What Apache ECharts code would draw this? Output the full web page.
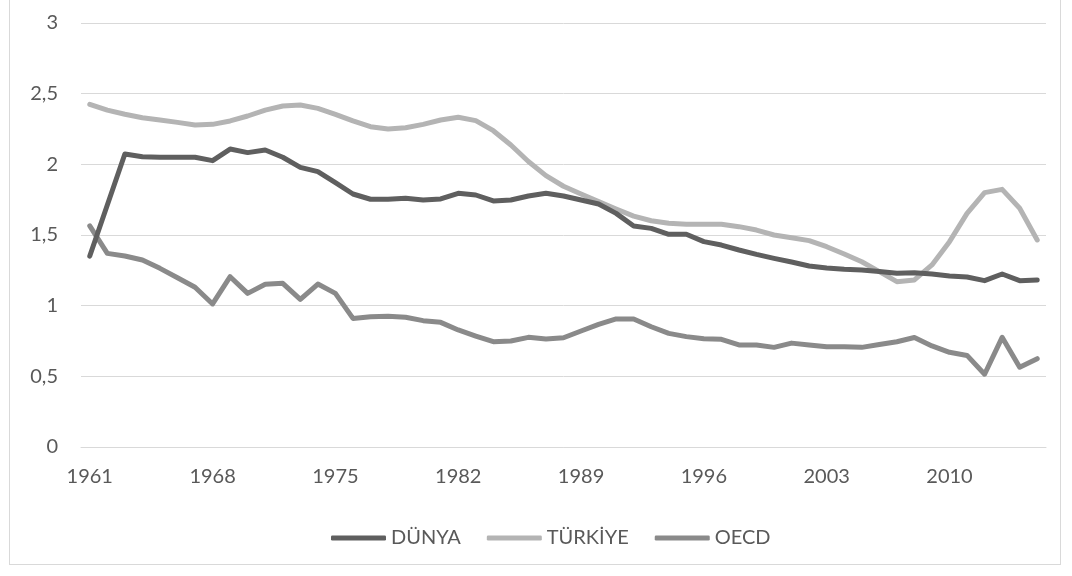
<!DOCTYPE html>
<html>
<head>
<meta charset="utf-8">
<script src="https://cdn.jsdelivr.net/npm/echarts@6/dist/echarts.min.js"></script>
<style>
html,body{margin:0;padding:0;background:#fff;}
#frame{position:absolute;left:9px;top:-1px;width:1052px;height:566px;border:1px solid #d9d9d9;box-sizing:border-box;}
#main{position:absolute;left:0;top:0;width:1072px;height:576px;}
</style>
</head>
<body>
<div id="frame"></div>
<div id="main"></div>
<script>
var years = [];
for (var y = 1961; y <= 2015; y++) years.push(String(y));

var dunya = [1.351,1.712,2.073,2.054,2.050,2.050,2.050,2.026,2.108,2.083,2.101,2.050,1.979,1.948,1.870,1.790,1.753,1.753,
  1.760,1.748,1.755,1.795,1.783,1.741,1.748,1.776,1.795,1.776,1.748,1.719,1.653,1.564,1.547,1.505,1.505,1.453,
  1.429,1.394,1.363,1.335,1.309,1.281,1.267,1.257,1.252,1.241,1.229,1.233,1.224,1.210,1.203,1.177,1.224,1.177,1.182];

var turkiye = [2.425,2.384,2.354,2.330,2.314,2.297,2.278,2.283,2.307,2.342,2.384,2.413,2.420,2.396,2.354,2.307,2.266,2.250,
  2.259,2.283,2.314,2.333,2.309,2.238,2.137,2.020,1.920,1.845,1.790,1.736,1.684,1.634,1.601,1.583,1.576,1.576,
  1.576,1.559,1.535,1.500,1.481,1.460,1.417,1.366,1.311,1.241,1.170,1.182,1.288,1.453,1.653,1.800,1.823,1.689,1.465];

var oecd = [1.564,1.370,1.351,1.323,1.264,1.198,1.130,1.012,1.205,1.087,1.151,1.158,1.045,1.153,1.087,0.910,0.922,0.925,
  0.918,0.894,0.882,0.828,0.785,0.745,0.750,0.776,0.764,0.773,0.821,0.868,0.906,0.906,0.851,0.804,0.781,0.766,
  0.762,0.722,0.722,0.705,0.735,0.722,0.710,0.710,0.705,0.725,0.745,0.775,0.715,0.670,0.648,0.515,0.776,0.565,0.625];

var seriesNames = ['DÜNYA', 'TÜRKİYE', 'OECD'];
var seriesColors = ['#5f5f5f', '#b4b4b4', '#8a8a8a'];
var seriesData = [dunya, turkiye, oecd];

var myChart = echarts.init(document.getElementById('main'));
var font = 'Lato, "Liberation Sans", sans-serif';

var option = {
    animation: false,
    textStyle: {fontFamily: font},
    grid: {left: 81, right: 26, top: 23, bottom: 129, containLabel: false},
    legend: {
        top: 523,
        left: 326,
        itemWidth: 55,
        itemHeight: 5,
        itemGap: 26,
        icon: 'roundRect',
        textStyle: {color: '#595959', fontSize: 20, fontFamily: font},
        data: seriesNames
    },
    xAxis: {
        type: 'category',
        data: years,
        boundaryGap: true,
        axisLine: {lineStyle: {color: '#d9d9d9', width: 1}},
        axisTick: {show: false},
        axisLabel: {interval: 6, color: '#595959', fontSize: 20, margin: 20}
    },
    yAxis: {
        type: 'value',
        min: 0,
        max: 3,
        interval: 0.5,
        axisLine: {show: false},
        axisTick: {show: false},
        splitLine: {lineStyle: {color: '#d9d9d9', width: 1}},
        axisLabel: {
            color: '#595959', fontSize: 20, margin: 23,
            formatter: function(v){ return String(v).replace('.', ','); }
        }
    },
    series: seriesNames.map(function(name, i){
        return {
            name: name,
            type: 'line',
            data: seriesData[i],
            symbol: 'none',
            lineStyle: {color: seriesColors[i], width: 5, cap: 'round', join: 'round'},
            itemStyle: {color: seriesColors[i]},
            z: 3 - i
        };
    })
};
myChart.setOption(option);
</script>
</body>
</html>
